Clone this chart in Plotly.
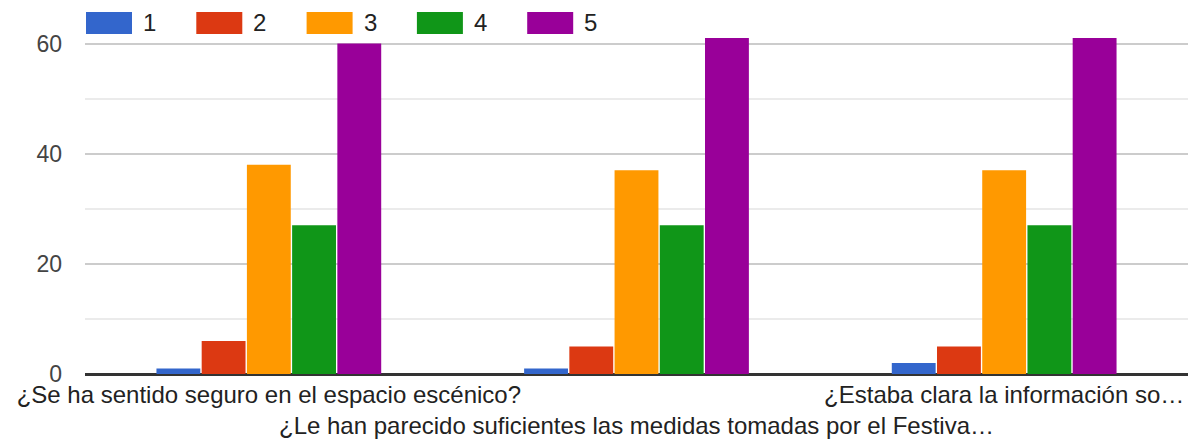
import plotly.graph_objects as go

categories = [
    "¿Se ha sentido seguro en el espacio escénico?",
    "¿Le han parecido suficientes las medidas tomadas por el Festiva…",
    "¿Estaba clara la información so…",
]
series_names = ["1", "2", "3", "4", "5"]
values_1 = [1, 1, 2]
values_2 = [6, 5, 5]
values_3 = [38, 37, 37]
values_4 = [27, 27, 27]
values_5 = [60, 61, 61]
series_values = [values_1, values_2, values_3, values_4, values_5]
colors = ["#3366cc", "#dc3912", "#ff9900", "#109618", "#990099"]
y_ticks = [0, 20, 40, 60]
y_minor = [10, 30, 50]

W, H = 1191, 441
L, R, T, B = 85, 3, 30, 67
FONT = "Arial, Liberation Sans, sans-serif"

fig = go.Figure()
for name, vals, col in zip(series_names, series_values, colors):
    fig.add_trace(go.Bar(x=list(range(len(categories))), y=vals, name=name,
                         marker=dict(color=col, line=dict(width=0)), showlegend=False))

ticktext = [c if i % 2 == 0 else "<br>" + c for i, c in enumerate(categories)]

# manual legend (paper coordinates)
shapes = []
annotations = []
pw = W - L - R
ph = H - T - B
for i, (name, col) in enumerate(zip(series_names, colors)):
    x0 = 86 + i * 110.3
    shapes.append(dict(type="rect", xref="paper", yref="paper",
                       x0=(x0 - L) / pw, x1=(x0 + 46 - L) / pw,
                       y0=1 + (T - 34) / ph, y1=1 + (T - 12) / ph,
                       fillcolor=col, line=dict(width=0)))
    annotations.append(dict(xref="paper", yref="paper", x=(x0 + 55 - L) / pw,
                            y=1 + (T - 23) / ph, text=name, showarrow=False,
                            xanchor="left", yanchor="middle",
                            font=dict(size=24, color="#222222", family=FONT)))

fig.update_layout(
    width=W, height=H,
    margin=dict(l=L, r=R, t=T, b=B, autoexpand=False),
    paper_bgcolor="white", plot_bgcolor="white",
    font=dict(family=FONT),
    barmode="group", bargap=0.385, bargroupgap=0.03,
    shapes=shapes, annotations=annotations,
    xaxis=dict(tickmode="array", tickvals=list(range(len(categories))), ticktext=ticktext,
               tickangle=0, range=[-0.5, 2.5], showgrid=False, ticks="",
               tickfont=dict(size=24, color="#222222"), showline=False, zeroline=False,
               automargin=False, ticklabeloverflow="allow", ticklabelstandoff=4),
    yaxis=dict(range=[0, (373.5 - T) / 5.5], tickvals=y_ticks, showgrid=True,
               gridcolor="#cccccc", gridwidth=1.5,
               minor=dict(tickvals=y_minor, showgrid=True, gridcolor="#ebebeb", gridwidth=1.5),
               zeroline=True, zerolinecolor="#333333", zerolinewidth=3,
               tickfont=dict(size=23, color="#444444"), ticklabelstandoff=22,
               automargin=False),
)
fig.write_html("out.html", config={"displayModeBar": False},
               post_script="document.body.style.margin='0px';")
